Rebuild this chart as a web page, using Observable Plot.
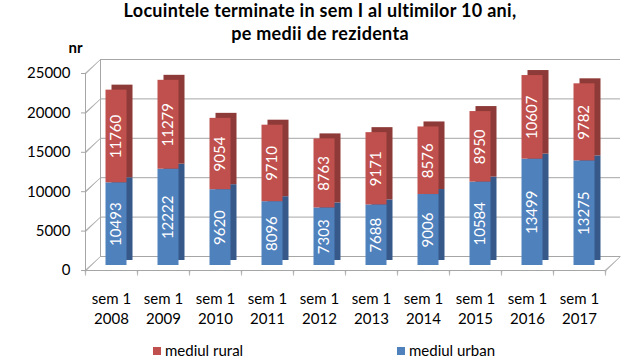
<!DOCTYPE html>
<html><head><meta charset="utf-8">
<script src="https://cdn.jsdelivr.net/npm/d3@7"></script>
<script src="https://cdn.jsdelivr.net/npm/@observablehq/plot@0.6"></script>
<style>
body{margin:0;background:#fff;font-family:Lato,"Open Sans",sans-serif;width:640px;height:360px;overflow:hidden;position:relative}
#title{text-align:center;font-weight:bold;font-size:18px;letter-spacing:0.3px;line-height:23px;height:44px;margin-top:-1px;padding-top:0;color:#000}
#chart svg{display:block}
.leg{position:absolute;top:341px;font-size:15px;line-height:18px;color:#000;white-space:nowrap}
.sw{display:inline-block;width:8px;height:8px;margin-right:4px;vertical-align:middle;position:relative;top:-1px}
</style></head>
<body>
<div id="title">Locuintele terminate in sem I al ultimilor 10 ani,<br>pe medii de rezidenta</div>
<div id="chart" style="position:absolute;top:44px;left:0"></div>
<div class="leg" style="left:153px"><span class="sw" style="background:#C0504D"></span>mediul rural</div>
<div class="leg" style="left:397px"><span class="sw" style="background:#4F81BD"></span>mediul urban</div>
<script>
const years = [2008, 2009, 2010, 2011, 2012, 2013, 2014, 2015, 2016, 2017];
const urban = [10493, 12222, 9620, 8096, 7303, 7688, 9006, 10584, 13499, 13275];
const rural = [11760, 11279, 9054, 9710, 8763, 9171, 8576, 8950, 10607, 9782];
const seriesNames = ["mediul urban", "mediul rural"];
const yTicks = [0, 5000, 10000, 15000, 20000, 25000];
const axisTitle = "nr";

const frontColors = ["#4F81BD", "#C0504D"];
const sideColors = ["#36598A", "#8E3A38"];
const gridColor = "#a6a6a6";

const rows = years.flatMap((yr, i) => [
  {year: yr, series: seriesNames[0], value: urban[i]},
  {year: yr, series: seriesNames[1], value: rural[i]}
]);

const W = 640, H = 290, ML = 85, MR = 35, MT = 29, MB = 64;
const bw = (W - ML - MR) / years.length;
const depthX = 15, depthY = -14;
const diagLen = Math.hypot(depthX, depthY);
const diagRot = Math.atan2(depthX, -depthY) * 180 / Math.PI;

const chart = Plot.plot({
  width: W, height: H,
  marginLeft: ML, marginRight: MR, marginTop: MT, marginBottom: MB,
  style: {fontFamily: "Lato, 'Open Sans', sans-serif", fontSize: "15px", color: "#000", background: "#fff", overflow: "visible"},
  x: {domain: years, padding: 0, label: null, axis: null},
  y: {domain: [0, 25000], label: null, axis: null},
  color: {domain: seriesNames, range: frontColors},
  marks: [
    Plot.ruleY(yTicks, {dx: depthX, dy: depthY, stroke: gridColor, strokeWidth: 1}),
    Plot.ruleX([years[0]], {y1: 0, y2: 25000, dx: -bw / 2 + depthX, dy: depthY, stroke: gridColor}),
    Plot.vector(yTicks, {x: () => years[0], y: d => d, dx: -bw / 2, length: diagLen, rotate: diagRot, anchor: "start", shape: "spike", r: 0.5, fill: gridColor, stroke: gridColor, strokeWidth: 0.5}),
    Plot.vector([0], {x: () => years[years.length - 1], y: d => d, dx: bw / 2, length: diagLen, rotate: diagRot, anchor: "start", shape: "spike", r: 0.5, fill: gridColor, stroke: gridColor, strokeWidth: 0.5}),
    Plot.ruleY([0], {stroke: gridColor}),
    Plot.ruleX([years[0]], {y1: 0, y2: 25000, dx: -bw / 2, stroke: gridColor}),
    Plot.vector(years, {x: d => d, y: () => 0, dx: -bw / 2, length: 5, rotate: 180, anchor: "start", shape: "spike", r: 0.5, fill: gridColor, stroke: gridColor, strokeWidth: 0.5}),
    Plot.vector([years[years.length - 1]], {x: d => d, y: () => 0, dx: bw / 2, length: 5, rotate: 180, anchor: "start", shape: "spike", r: 0.5, fill: gridColor, stroke: gridColor, strokeWidth: 0.5}),
    Plot.axisY({ticks: yTicks, tickSize: 4, tickPadding: 11, tickFormat: d => String(d), stroke: gridColor, fill: "#000", label: null, fontSize: 15}),
    Plot.axisX({tickSize: 0, tickPadding: 19, tickFormat: d => "sem 1\n" + d, lineHeight: 1.33, label: null, fontSize: 15, fill: "#000"}),
    Plot.barY(rows, {x: "year", y: "value", z: "series", fill: d => sideColors[seriesNames.indexOf(d.series)], insetLeft: 15.5, insetRight: 15.5, dx: 11, dy: -10}),
    Plot.barY(rows, {x: "year", y: "value", z: "series", fill: "series", insetLeft: 15.5, insetRight: 15.5, dx: 5, dy: -5}),
    Plot.text(rows, Plot.stackY({x: "year", y: "value", z: "series", text: d => String(d.value), rotate: -90, fill: "white", fontSize: 15, dx: 5, dy: -5})),
    Plot.text([axisTitle], {frameAnchor: "top-left", text: d => d, dx: -10, dy: -31, fontWeight: "bold", fontSize: 15, textAnchor: "middle"})
  ]
});
document.getElementById("chart").append(chart);
</script>
</body></html>
